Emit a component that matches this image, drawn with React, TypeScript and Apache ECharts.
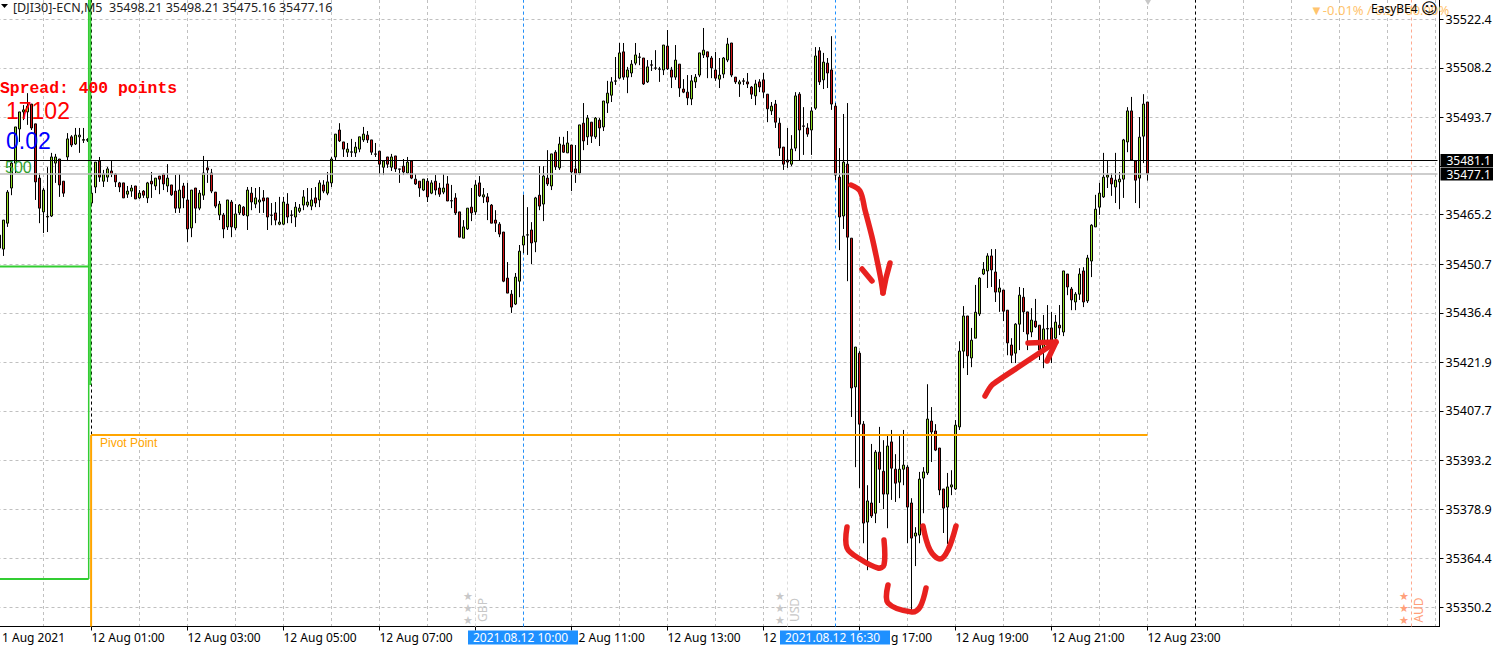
import React, { useEffect, useRef } from "react";
import * as echarts from "echarts";

const PRICE_BASE = 35000;

const opens = [
455.4,
455.1,462.7,473.0,480.3,490.3,495.3,495.3,497.6,491.8,475.9,
466.0,464.5,464.8,480.3,481.5,475.0,482.1,488.0,485.9,488.0,
487.0,487.0,468.6,473.3,480.9,475.0,476.2,478.0,477.1,474.5,
474.5,471.2,472.1,473.6,470.1,472.1,470.1,475.0,473.6,476.5,
477.1,473.6,473.9,472.1,467.1,473.6,469.5,461.3,473.0,467.1,
470.9,478.9,477.4,471.8,465.1,465.1,461.6,468.9,461.3,465.7,
467.4,464.8,471.5,468.3,468.9,470.1,470.1,465.1,465.7,462.4,
462.4,468.3,465.1,464.5,466.2,468.0,468.0,467.7,470.1,469.5,
473.9,471.5,474.5,482.1,490.0,486.5,483.5,483.5,483.3,484.4,
487.1,488.5,487.1,483.0,483.8,479.1,482.1,479.1,482.4,478.6,
479.4,477.4,480.9,475.6,475.0,472.4,475.0,471.5,475.0,473.0,
471.8,474.2,469.3,470.1,466.0,458.3,461.0,467.4,466.0,474.5,
470.4,470.4,468.0,463.6,462.4,460.1,446.6,441.9,439.0,445.7,
456.3,459.2,460.7,457.2,470.9,468.3,475.9,473.6,483.5,478.9,
485.6,483.3,485.6,478.6,477.4,492.0,488.0,492.3,488.0,492.9,
490.9,497.9,500.2,504.3,505.2,512.9,505.5,506.7,509.6,511.3,
511.1,504.1,509.1,508.2,507.9,507.6,514.6,507.6,505.5,509.3,
502.0,501.1,499.1,504.1,506.1,512.0,512.9,511.1,507.6,504.9,
506.4,510.5,515.5,505.5,503.5,504.4,504.1,502.6,500.0,504.1,
504.7,500.5,495.6,497.6,492.0,485.0,481.2,480.0,484.7,500.5,
491.2,490.6,490.0,496.4,513.2,504.7,509.6,507.6,497.0,476.2,
464.8,480.0,458.3,414.7,424.6,403.8,375.1,380.7,377.7,395.6,
390.0,383.3,398.6,390.6,386.8,390.6,391.2,380.7,371.0,371.3,
388.0,389.5,404.7,401.8,396.8,384.8,379.5,385.4,384.8,403.0,
425.2,435.5,423.2,429.0,436.1,447.8,448.7,453.1,448.4,442.5,
443.1,437.2,427.0,424.6,433.1,441.0,436.7,430.8,434.0,432.8,
426.1,431.8,432.0,429.0,432.8,430.8,447.8,443.4,439.6,441.9,
448.7,439.9,451.6,461.6,467.4,470.4,476.2,475.9,473.3,474.8,
475.6,486.5,495.6,480.9,475.9,488.2,498.21];

const closes = [
459.2,
463.6,471.8,480.3,490.9,495.3,495.9,497.0,490.6,474.8,467.1,
472.4,464.7,482.1,482.1,473.9,471.5,487.4,485.6,488.5,488.5,
487.2,487.2,471.5,480.6,476.2,477.1,478.6,477.1,474.8,473.3,
470.1,472.1,473.0,469.8,471.5,470.9,474.5,474.2,475.9,475.6,
474.2,475.9,471.0,467.1,472.4,470.1,461.0,472.4,467.1,471.5,
477.4,478.3,472.1,467.7,468.3,461.0,469.5,461.6,465.4,468.0,
465.1,472.4,468.9,470.1,469.5,469.2,464.5,465.0,463.6,463.0,
468.9,464.5,465.0,467.4,467.1,470.4,468.9,469.5,468.6,474.5,
472.1,474.8,481.5,488.8,486.8,484.4,484.4,483.6,485.0,488.0,
488.8,487.1,483.5,482.9,480.0,480.9,480.0,482.1,478.6,478.5,
477.7,480.6,475.9,474.2,473.0,475.6,470.4,474.5,472.4,471.2,
473.0,469.2,469.2,465.7,458.6,461.6,467.1,465.7,473.9,470.7,
471.0,468.9,462.7,462.7,459.5,445.7,442.2,438.1,446.9,454.5,
458.9,459.3,456.9,470.1,467.7,476.5,474.2,483.0,479.2,485.9,
483.5,486.2,477.7,477.1,491.5,486.8,493.5,488.2,493.5,490.6,
498.5,500.8,504.1,504.4,512.6,505.5,507.6,509.3,512.0,511.4,
503.5,508.5,509.0,508.1,507.8,514.9,507.9,505.5,510.5,502.3,
501.1,499.4,504.4,505.5,512.6,513.4,511.4,508.2,505.2,506.1,
511.1,515.2,506.1,504.1,504.1,504.3,503.5,500.5,503.5,502.6,
501.1,496.2,497.0,492.3,484.7,480.0,480.6,484.4,500.0,490.0,
491.1,488.8,495.6,511.7,504.1,509.9,506.7,497.6,476.8,464.5,
480.6,458.6,414.4,426.4,403.8,374.8,381.3,376.9,395.6,390.6,
383.3,397.4,390.9,386.5,390.6,391.8,379.5,370.4,371.9,387.7,
389.8,405.3,401.5,396.2,384.5,379.2,385.4,386.0,403.5,425.2,
435.5,423.8,428.4,436.6,446.6,449.2,453.1,449.0,442.5,443.7,
436.9,427.6,424.0,433.1,441.6,436.7,430.2,434.3,432.3,425.5,
431.7,431.7,428.4,433.7,432.0,448.7,444.0,440.2,441.9,447.8,
439.6,452.5,462.1,466.8,471.5,476.2,476.8,474.2,475.3,475.6,
487.1,495.6,481.2,475.3,487.9,497.6,477.16];

const lows = [
454.8,
453.1,461.6,470.9,477.4,486.5,492.9,491.5,490.0,469.5,462.7,
459.8,460.1,464.5,474.5,470.4,470.4,480.9,485.0,485.6,483.3,
486.2,486.5,467.7,471.5,474.8,473.3,474.8,476.2,473.3,471.8,
470.1,470.1,470.4,469.8,469.8,470.1,468.6,470.1,472.4,471.2,
472.4,471.8,470.7,465.7,465.7,467.1,457.2,458.6,462.7,466.5,
469.5,474.5,471.5,467.1,463.6,458.3,460.7,458.6,460.7,465.1,
464.8,460.7,466.5,467.1,465.7,465.7,460.7,462.1,462.1,462.1,
462.1,462.7,462.7,461.6,465.7,466.5,467.4,466.5,467.4,467.4,
471.5,470.9,473.3,481.2,486.5,482.1,482.1,482.1,482.1,483.5,
486.5,486.2,482.7,482.1,477.1,476.8,478.9,478.0,477.7,474.5,
476.8,477.1,475.6,473.9,470.4,472.1,468.9,471.2,470.9,470.4,
471.2,469.2,467.1,465.1,458.6,458.3,460.7,463.3,465.1,470.4,
468.6,463.6,462.7,460.1,458.6,445.4,442.2,436.4,438.7,441.0,
453.9,453.4,450.7,454.2,466.5,463.3,473.6,472.4,478.3,478.3,
483.3,483.3,472.1,474.5,476.8,484.1,485.6,486.2,487.4,485.3,
489.7,495.0,498.2,503.2,504.9,504.7,500.8,505.5,509.0,509.0,
503.2,503.8,507.3,507.6,504.1,506.1,507.6,502.3,504.7,499.7,
500.8,497.3,497.3,502.3,505.5,511.1,505.2,505.2,504.4,502.3,
505.2,509.9,505.5,503.5,499.7,503.2,502.3,499.1,497.3,501.1,
499.4,492.3,494.4,490.6,482.4,478.3,478.9,479.4,483.8,481.2,
482.7,488.0,482.7,495.9,503.2,502.0,502.3,495.9,475.3,454.8,
461.0,445.7,405.9,391.2,385.1,368.9,361.0,376.3,374.8,380.7,
378.9,373.3,381.6,381.0,382.1,385.9,368.9,349.3,362.2,368.9,
377.7,388.9,392.7,395.9,383.0,371.9,368.7,383.0,384.5,402.1,
420.2,418.2,420.5,429.0,435.5,447.5,443.7,444.0,439.6,436.7,
434.0,424.0,421.7,421.7,425.5,430.8,425.5,429.3,432.0,422.6,
420.2,425.5,421.7,428.4,429.9,429.6,441.6,437.2,437.2,440.2,
438.1,439.3,446.9,461.6,465.1,470.1,473.0,470.7,468.6,466.8,
470.1,483.5,481.2,468.6,467.1,480.3,475.16];

const highs = [
459.2,
463.6,472.4,481.2,490.9,495.3,497.3,500.8,497.6,491.8,477.4,
473.0,479.1,483.3,483.0,481.5,475.0,489.1,488.5,490.6,490.6,
490.6,487.6,473.6,480.6,482.1,478.3,479.2,480.9,477.4,474.8,
474.5,473.6,473.9,473.6,472.4,472.4,474.8,477.7,475.9,476.5,
477.4,480.0,473.9,476.8,477.1,474.5,474.5,472.4,473.0,472.4,
482.4,481.2,478.6,471.8,469.2,465.7,469.5,469.5,468.3,468.3,
467.7,473.3,473.3,473.0,473.3,472.4,470.1,468.6,468.9,470.4,
470.4,471.5,466.5,468.9,468.3,472.4,473.0,473.0,473.3,475.3,
475.3,477.7,482.1,488.8,492.0,486.5,486.2,487.4,486.5,488.0,
490.9,489.7,487.1,486.2,483.8,480.9,482.1,483.0,482.4,478.6,
481.5,482.1,480.9,477.1,475.0,475.6,475.9,475.3,476.8,474.5,
477.1,476.5,473.9,471.5,466.0,463.6,467.1,473.0,475.3,476.5,
473.0,471.5,468.3,466.5,463.0,460.1,451.3,443.1,448.1,456.3,
471.0,467.4,463.0,470.4,479.4,479.4,484.1,483.0,484.1,488.0,
488.0,489.7,485.6,485.6,491.5,497.9,494.4,492.3,493.8,493.5,
498.5,504.4,505.5,511.4,515.5,515.5,508.5,510.5,515.5,512.6,
511.1,510.5,510.5,513.4,508.5,514.9,519.3,508.5,514.9,509.3,
504.9,506.1,506.1,506.4,512.6,519.9,512.9,511.7,512.9,511.1,
511.4,517.0,515.5,505.5,504.7,505.2,506.7,502.9,504.7,504.9,
506.7,500.5,498.2,498.8,493.5,485.0,490.6,488.5,501.1,501.1,
496.7,492.0,496.7,514.3,514.3,512.6,511.1,517.5,497.9,484.7,
494.7,497.9,458.3,426.4,425.2,404.7,385.9,398.0,396.2,403.0,
399.1,400.6,402.1,395.0,400.3,402.1,391.8,382.1,373.6,389.8,
391.2,415.5,408.8,403.8,396.8,384.8,389.5,390.3,405.0,428.1,
438.4,435.5,432.0,444.6,446.9,451.3,453.9,455.1,455.1,446.3,
443.1,437.2,429.0,433.4,444.0,443.7,436.7,437.8,440.5,432.8,
435.8,438.7,436.7,435.8,438.7,448.7,447.8,444.0,442.5,449.5,
449.8,453.4,462.4,471.0,474.5,483.3,480.9,477.4,483.3,477.7,
487.4,496.7,499.7,480.9,493.8,500.5,498.21];

const priceTicks = [35522.4,35508.2,35493.7,35479.4,35465.2,35450.7,35436.4,35421.9,35407.7,35393.2,35378.9,35364.4,35350.2];
const hiddenPriceLabel = 35479.4;
const shownTimeLabels = ["12 Aug 01:00","12 Aug 03:00","12 Aug 05:00","12 Aug 07:00","12 Aug 13:00","12 Aug 19:00","12 Aug 21:00","12 Aug 23:00"];
const yMin = 35344.5;
const yMax = 35528.1;
const lastPrice = 35477.1;
const bidLine = 35481.1;
const pivotLevel = 35400.6;
const greenUpper = 35450.0;
const greenLower = 35358.4;
const greenBreak = 35415.3;
const CATEGORY_COUNT = 360;
const FIRST_SESSION_INDEX = 23;
const LAST_BAR_POS = 286;
const LAST_TICK_INDEX = 287;

const pad = (n: number) => String(n).padStart(2, "0");
const categories: string[] = [];
for (let i = 0; i < CATEGORY_COUNT; i++) {
  if (i < FIRST_SESSION_INDEX) {
    const m = 5 * (i + 288 - FIRST_SESSION_INDEX);
    categories.push(`11 Aug ${pad(Math.floor(m / 60))}:${pad(m % 60)}`);
  } else {
    const m = 60 + 5 * (i - FIRST_SESSION_INDEX);
    const day = m >= 1440 ? 13 : 12;
    const mm = m % 1440;
    categories.push(`${day} Aug ${pad(Math.floor(mm / 60))}:${pad(mm % 60)}`);
  }
}

const candleData = opens.map((o, i) => [
  PRICE_BASE + o,
  PRICE_BASE + closes[i],
  PRICE_BASE + lows[i],
  PRICE_BASE + highs[i],
]);

const FONT = '"Noto Sans", sans-serif';

function seg(a: number[], b: number[], color: string, width: number, dash?: number[], z = 3) {
  return {
    type: "line",
    xAxisIndex: 1,
    yAxisIndex: 0,
    data: [a, b],
    symbol: "none",
    silent: true,
    z,
    lineStyle: { color, width, type: dash || "solid" },
  };
}

function redStroke(points: number[][], smooth = 0.35) {
  return {
    type: "polyline",
    z: 200,
    silent: true,
    shape: { points, smooth },
    style: { stroke: "#E8211F", lineWidth: 5.5, fill: "none", lineCap: "round", lineJoin: "round" },
  };
}

function txt(text: string, x: number, y: number, fill: string, font: string, extra: any = {}) {
  return {
    type: "text",
    z: 150,
    silent: true,
    x,
    y,
    style: { text, x: 0, y: 0, fill, font, verticalAlign: "middle", align: "left", ...extra.style },
    ...(extra.rotation !== undefined ? { rotation: extra.rotation } : {}),
  };
}

function eventMarks(starX: number, textX: number, code: string, color: string) {
  const out: any[] = [];
  [596, 608, 620].forEach((y) => {
    out.push(txt("★", starX, y, color, '11px "DejaVu Sans"', { style: { align: "center" } }));
  });
  out.push(txt(code, textX, 610, color, `12px ${FONT}`, { rotation: Math.PI / 2, style: { align: "center" } }));
  return out;
}

export default function App() {
  const ref = useRef<HTMLDivElement>(null);
  useEffect(() => {
    const chart = echarts.init(ref.current!, null, { renderer: "svg" });
    const dash = [3, 3];
    const tag = (v: number) => ({
      show: true,
      position: "end",
      distance: 3,
      formatter: () => v.toFixed(1),
      backgroundColor: "#000",
      color: "#fff",
      fontFamily: FONT,
      fontSize: 12,
      padding: [1, 4, 0, 6],
      lineHeight: 12,
    });
    chart.setOption({
      animation: false,
      backgroundColor: "#ffffff",
      grid: { left: -2.5, top: 0, width: 1440, height: 626.5, containLabel: false, outerBoundsMode: "none" },
      xAxis: [
        {
          type: "category",
          data: categories,
          boundaryGap: true,
          axisLine: { show: true, onZero: false, lineStyle: { color: "#000", width: 1 } },
          axisTick: {
            show: true,
            alignWithLabel: true,
            length: 4,
            interval: (i: number) => i >= FIRST_SESSION_INDEX && i <= LAST_TICK_INDEX && (i - FIRST_SESSION_INDEX) % 24 === 0,
            lineStyle: { color: "#000" },
          },
          splitLine: {
            show: true,
            alignWithLabel: true,
            interval: (i: number) => i >= 11 && (i - 11) % 12 === 0,
            lineStyle: { color: "#C0C0C0", type: dash, width: 1 },
          },
          axisLabel: {
            show: true,
            interval: (_i: number, v: string) => shownTimeLabels.includes(v),
            align: "left",
            margin: 5,
            color: "#000",
            fontFamily: FONT,
            fontSize: 12,
            hideOverlap: false,
          },
        },
        { type: "value", min: -1.5, max: 358.5, show: false, splitLine: { show: false } },
      ],
      yAxis: [
        {
          type: "value",
          position: "right",
          offset: 2,
          min: yMin,
          max: yMax,
          scale: true,
          axisLine: { show: true, onZero: false, lineStyle: { color: "#000", width: 1 } },
          axisTick: { show: true, length: 4, customValues: priceTicks, lineStyle: { color: "#000" } },
          splitLine: { show: true, lineStyle: { color: "#C0C0C0", type: dash, width: 1 } },
          axisLabel: {
            show: true,
            customValues: priceTicks.filter((v) => v !== hiddenPriceLabel),
            formatter: (v: number) => v.toFixed(1),
            margin: 6,
            color: "#000",
            fontFamily: FONT,
            fontSize: 12.5,
          },
        },
      ],
      series: [
        seg([22, yMin], [22, yMax], "#000", 1, dash, 1),
        seg([298, yMin], [298, yMax], "#000", 1, dash, 1),
        seg([130, yMin], [130, yMax], "#1E90FF", 1, dash, 1),
        seg([208, yMin], [208, yMax], "#1E90FF", 1, dash, 1),
        seg([118, yMin], [118, yMax], "#DCDCDC", 1, dash, 1),
        seg([196, yMin], [196, yMax], "#DCDCDC", 1, dash, 1),
        seg([352, yMin], [352, yMax], "#FFA98F", 1, dash, 1),
        {
          type: "candlestick",
          xAxisIndex: 0,
          yAxisIndex: 0,
          barWidth: 2,
          silent: true,
          z: 2,
          data: candleData,
          itemStyle: {
            color: "#90DD22",
            color0: "#D01414",
            borderColor: "#000",
            borderColor0: "#000",
            borderColorDoji: "#000",
            borderWidth: 1,
          },
          markLine: {
            silent: true,
            symbol: "none",
            animation: false,
            z: 5,
            data: [
              { yAxis: bidLine, lineStyle: { color: "#000", width: 1, type: "solid" }, label: tag(bidLine) },
              { yAxis: lastPrice, lineStyle: { color: "#BDBDBD", width: 1.5, type: "solid" }, label: tag(lastPrice) },
            ],
          },
        },
        seg([-1.5, greenUpper], [21.3, greenUpper], "#32CD32", 2, undefined, 4),
        seg([-1.5, greenLower], [21.3, greenLower], "#32CD32", 2, undefined, 4),
        seg([21.3, yMax], [21.3, greenLower], "#32CD32", 1.5, undefined, 4),
        seg([21.7, yMax], [21.7, greenBreak], "#32CD32", 2, undefined, 4),
        seg([21.9, pivotLevel], [21.9, yMin], "#FFA500", 2, undefined, 4),
        seg([21.9, pivotLevel], [LAST_BAR_POS, pivotLevel], "#FFA500", 2, undefined, 4),
      ],
      graphic: [
        { type: "line", z: 100, silent: true, shape: { x1: 1437, y1: 626.5, x2: 1440, y2: 626.5 }, style: { stroke: "#000", lineWidth: 1 } },
        { type: "polygon", z: 150, silent: true, shape: { points: [[1, 4], [8, 4], [4.5, 8]] }, style: { fill: "#000" } },
        txt("[DJI30]-ECN,M5  35498.21 35498.21 35475.16 35477.16", 13, 7.5, "#222", `12.5px ${FONT}`),
        txt("Spread: 400 points", 0, 88, "#FF0000", 'bold 16.4px "Liberation Mono"'),
        txt("17102", 6, 111, "#FF0000", '23px "Liberation Sans"'),
        txt("0.02", 6, 141, "#0000FF", '23px "Liberation Sans"'),
        txt("500", 5, 167, "#2E9E2E", '16px "Liberation Sans"'),
        txt("Pivot Point", 100, 443, "#FFA500", '12px "Liberation Sans"'),
        txt("▼-0.01% / 0.2 / 00.00%", 1310, 10, "#FFC46E", `13px ${FONT}`),
        txt("EasyBE4", 1371, 8, "#000", `12px ${FONT}`),
        txt("☺", 1421, 8, "#000", '16px "DejaVu Sans"'),
        { type: "polygon", z: 150, silent: true, shape: { points: [[1145, 0], [1151, 0], [1148, 5]] }, style: { fill: "#C8C8C8" } },
        ...eventMarks(468, 482, "GBP", "#C8C8C8"),
        ...eventMarks(780, 794.5, "USD", "#C8C8C8"),
        ...eventMarks(1404, 1418.5, "AUD", "#FFA07A"),
        txt("1 Aug 2021", 2, 637.5, "#000", `12px ${FONT}`),
        txt("12", 763, 637.5, "#000", `12px ${FONT}`),
        txt("2 Aug 11:00", 578.5, 637.5, "#000", `12px ${FONT}`),
        txt("g 17:00", 891, 637.5, "#000", `12px ${FONT}`),
        { type: "rect", z: 140, silent: true, shape: { x: 468, y: 630.5, width: 110, height: 14 }, style: { fill: "#1E90FF" } },
        { type: "rect", z: 140, silent: true, shape: { x: 780, y: 630.5, width: 110, height: 14 }, style: { fill: "#1E90FF" } },
        txt("2021.08.12 10:00", 473, 637.5, "#fff", `12px ${FONT}`),
        txt("2021.08.12 16:30", 785, 637.5, "#fff", `12px ${FONT}`),
        redStroke([[851, 185], [860, 191], [865, 210], [872, 237], [877, 260], [881, 280], [883, 293]]),
        redStroke([[883, 293], [886, 278], [890, 263]], 0),
        redStroke([[862, 269], [867, 275], [872, 281]], 0),
        redStroke([[847, 527], [847, 548], [860, 559], [878, 568], [884, 565], [884, 540]]),
        redStroke([[888, 585], [888, 603], [912, 612], [920, 607], [926, 588]]),
        redStroke([[923, 526], [930, 550], [940, 559], [948, 550], [956, 526]]),
        redStroke([[985, 396], [992, 385], [1017, 368], [1056, 342]], 0.2),
        redStroke([[1028, 343], [1056, 342], [1047, 361]], 0),
      ],
    });
    return () => chart.dispose();
  }, []);
  return <div ref={ref} style={{ position: "fixed", left: 0, top: 0, width: 1493, height: 645 }} />;
}
